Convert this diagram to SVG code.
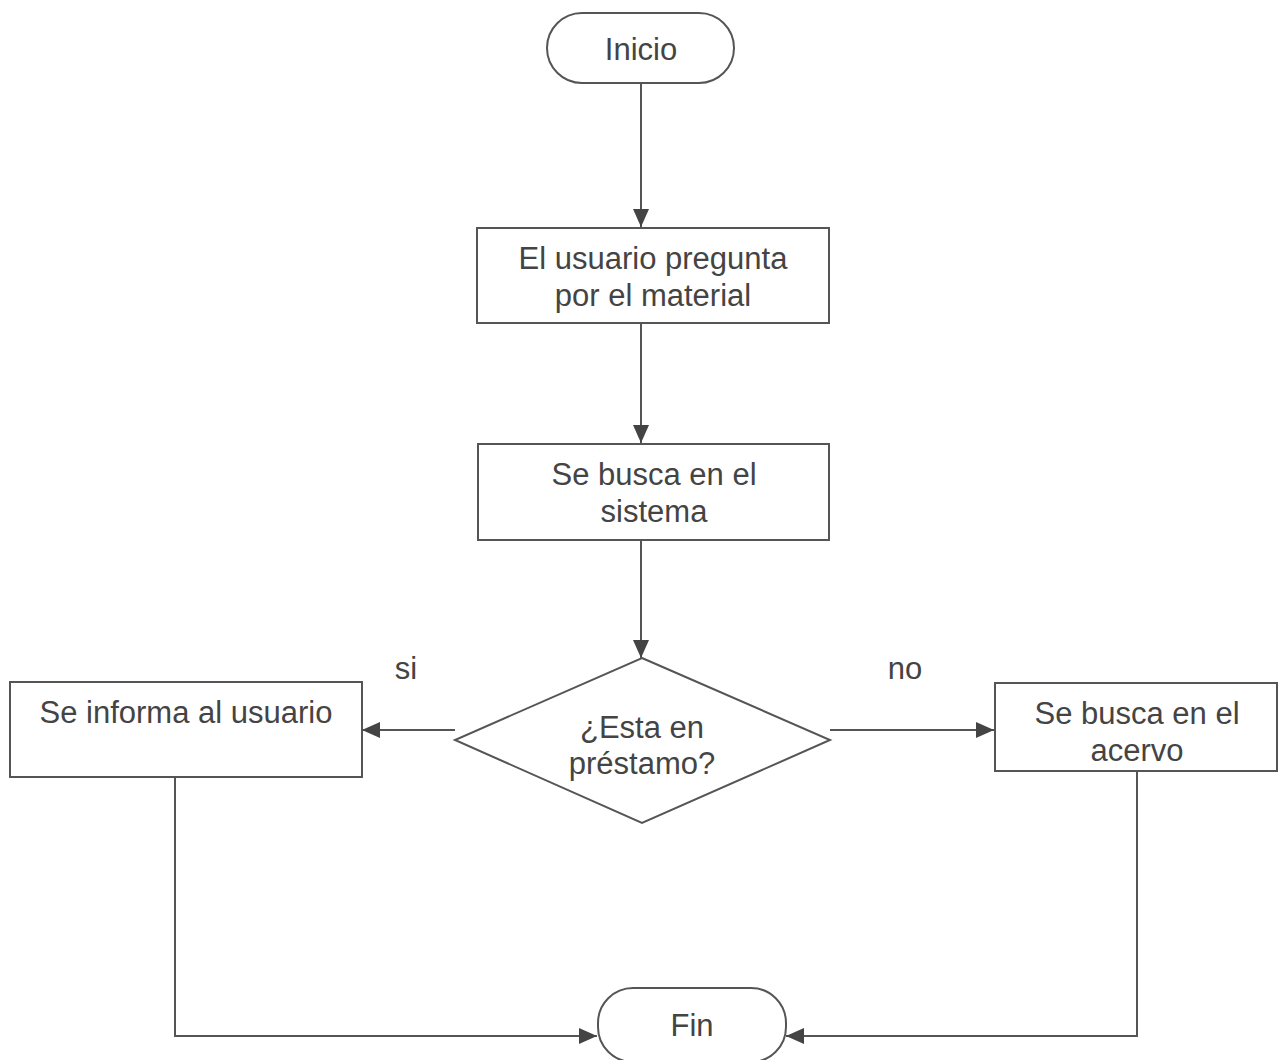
<svg xmlns="http://www.w3.org/2000/svg" width="1283" height="1060" viewBox="0 0 1283 1060">
  <style>
    .shape { fill: #ffffff; stroke: #555555; stroke-width: 2; }
    .lbl { font-family: "Liberation Sans", Arial, sans-serif; font-size: 31px; fill: #444444; text-anchor: middle; dominant-baseline: central; }
    .edge { fill: none; stroke: #555555; stroke-width: 2; }
  </style>
  <defs>
    <marker id="arrow" markerUnits="userSpaceOnUse" markerWidth="18" markerHeight="16" refX="18" refY="8" orient="auto">
      <path d="M0,0 L18,8 L0,16 Z" fill="#444444"/>
    </marker>
  </defs>
  <rect width="1283" height="1060" fill="#ffffff"/>

  <g id="connectors">
    <line class="edge" x1="641" y1="83" x2="641" y2="227" marker-end="url(#arrow)"/>
    <line class="edge" x1="641" y1="323" x2="641" y2="443" marker-end="url(#arrow)"/>
    <line class="edge" x1="641" y1="540" x2="641" y2="658" marker-end="url(#arrow)"/>
    <line class="edge" x1="455" y1="730" x2="362" y2="730" marker-end="url(#arrow)"/>
    <line class="edge" x1="830" y1="730" x2="994" y2="730" marker-end="url(#arrow)"/>
    <polyline class="edge" points="175,777 175,1036 597,1036" marker-end="url(#arrow)"/>
    <polyline class="edge" points="1137,771 1137,1036 786,1036" marker-end="url(#arrow)"/>
    <text class="lbl" x="406" y="668">si</text>
    <text class="lbl" x="905" y="668">no</text>
  </g>

  <g id="inicio">
    <rect class="shape" x="547" y="13" width="187" height="70" rx="35" ry="35"/>
    <text class="lbl" x="641" y="49">Inicio</text>
  </g>

  <g id="pregunta">
    <rect class="shape" x="477" y="228" width="352" height="95"/>
    <text class="lbl" x="653" y="258">El usuario pregunta</text>
    <text class="lbl" x="653" y="295">por el material</text>
  </g>

  <g id="sistema">
    <rect class="shape" x="478" y="444" width="351" height="96"/>
    <text class="lbl" x="654" y="474">Se busca en el</text>
    <text class="lbl" x="654" y="511">sistema</text>
  </g>

  <g id="prestamo">
    <polygon class="shape" points="642,658 830,740 642,823 455,740"/>
    <text class="lbl" x="642" y="727">¿Esta en</text>
    <text class="lbl" x="642" y="763">préstamo?</text>
  </g>

  <g id="informa">
    <rect class="shape" x="10" y="682" width="352" height="95"/>
    <text class="lbl" x="186" y="712">Se informa al usuario</text>
  </g>

  <g id="acervo">
    <rect class="shape" x="995" y="683" width="282" height="88"/>
    <text class="lbl" x="1137" y="713">Se busca en el</text>
    <text class="lbl" x="1137" y="750">acervo</text>
  </g>

  <g id="fin">
    <rect class="shape" x="598" y="988" width="188" height="74" rx="35" ry="35"/>
    <text class="lbl" x="692" y="1025">Fin</text>
  </g>
</svg>
